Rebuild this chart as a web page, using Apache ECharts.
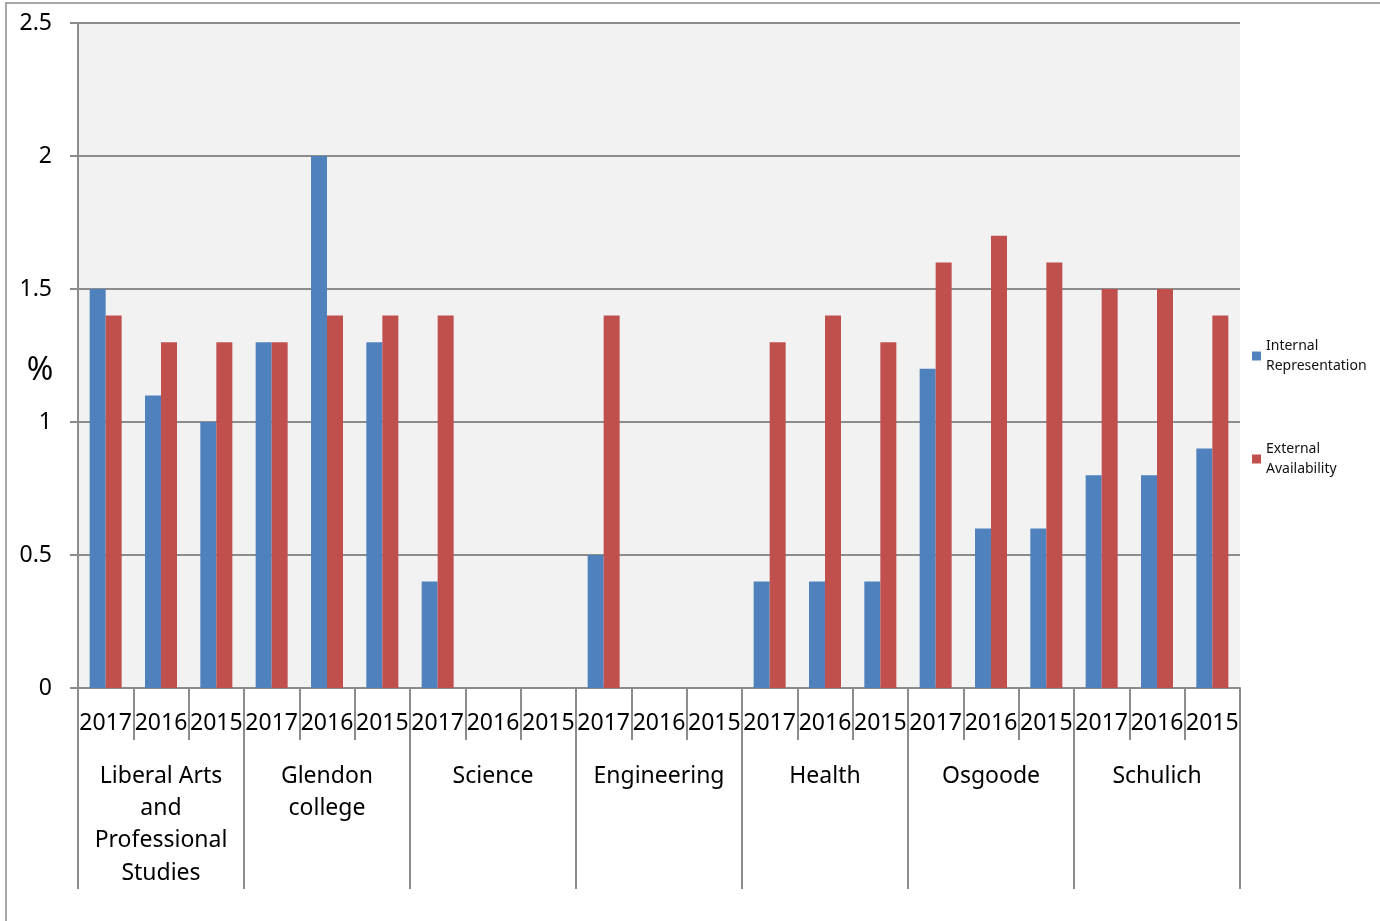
<!DOCTYPE html>
<html>
<head>
<meta charset="utf-8">
<script src="https://cdn.jsdelivr.net/npm/echarts@6/dist/echarts.min.js"></script>
<style>
  html, body { margin: 0; padding: 0; background: #fff; }
  #chart { width: 1380px; height: 921px; }
</style>
</head>
<body>
<div id="chart"></div>
<script>
  const groups = ['Liberal Arts\nand\nProfessional\nStudies', 'Glendon\ncollege', 'Science', 'Engineering', 'Health', 'Osgoode', 'Schulich'];
  const years = ['2017', '2016', '2015'];
  const internalRep = [1.5, 1.1, 1.0, 1.3, 2.0, 1.3, 0.4, 0, 0, 0.5, 0, 0, 0.4, 0.4, 0.4, 1.2, 0.6, 0.6, 0.8, 0.8, 0.9];
  const externalAvail = [1.4, 1.3, 1.3, 1.3, 1.4, 1.4, 1.4, 0, 0, 1.4, 0, 0, 1.3, 1.4, 1.3, 1.6, 1.7, 1.6, 1.5, 1.5, 1.4];
  const yTicks = [0, 0.5, 1, 1.5, 2, 2.5];

  const yearLabels = [];
  groups.forEach(() => years.forEach(y => yearLabels.push(y)));

  const FONT = 'Noto Sans';
  const GRAY = '#8c8c8c';

  let myChart = echarts.init(document.getElementById('chart'));
  let option = {
    animation: false,
    textStyle: { fontFamily: FONT },
    graphic: [
      {
        type: 'rect',
        shape: { x: 6, y: 3, width: 1400, height: 1000 },
        style: { fill: 'none', stroke: GRAY, lineWidth: 1.5 }
      },
      {
        // y axis unit
        type: 'text',
        x: 40,
        y: 371,
        style: { text: '%', font: '32px "Noto Sans"', fill: '#000', align: 'center', verticalAlign: 'middle' }
      }
    ],
    legend: {
      orient: 'vertical',
      left: 1252,
      top: 336,
      padding: 0,
      itemWidth: 9,
      itemHeight: 9,
      itemGap: 63,
      icon: 'rect',
      textStyle: { fontSize: 14, color: '#111', lineHeight: 20, fontFamily: FONT },
      data: ['Internal\nRepresentation', 'External\nAvailability'],
      align: 'left'
    },
    grid: {
      left: 78,
      right: 140,
      top: 23,
      bottom: 233,
      outerBoundsMode: 'none',
      containLabel: false,
      show: true,
      backgroundColor: '#f2f2f2',
      borderWidth: 0
    },
    xAxis: [
      {
        type: 'category',
        data: yearLabels,
        position: 'bottom',
        axisLine: { show: true, lineStyle: { color: GRAY, width: 2 } },
        axisTick: { show: true, interval: 0, length: 52, lineStyle: { color: GRAY, width: 2 } },
        axisLabel: { interval: 0, margin: 24, fontSize: 23, color: '#000', fontFamily: FONT }
      },
      {
        type: 'category',
        data: groups,
        position: 'bottom',
        axisLine: { show: false },
        axisTick: { show: true, interval: 0, length: 201, lineStyle: { color: GRAY, width: 2 } },
        axisLabel: { interval: 0, margin: 72, fontSize: 23, lineHeight: 32.3, color: '#000', fontFamily: FONT, verticalAlign: 'top' }
      }
    ],
    yAxis: {
      type: 'value',
      min: yTicks[0],
      max: yTicks[yTicks.length - 1],
      interval: 0.5,
      axisLine: { show: true, lineStyle: { color: GRAY, width: 2 } },
      axisTick: { show: true, length: 8, lineStyle: { color: GRAY, width: 2 } },
      splitLine: { show: true, lineStyle: { color: GRAY, width: 2 } },
      axisLabel: { margin: 26, fontSize: 23, color: '#000', fontFamily: FONT }
    },
    series: [
      {
        name: 'Internal\nRepresentation',
        type: 'bar',
        data: internalRep,
        barWidth: 16,
        barGap: 0,
        itemStyle: { color: '#4f81bd' }
      },
      {
        name: 'External\nAvailability',
        type: 'bar',
        data: externalAvail,
        barWidth: 16,
        barGap: 0,
        itemStyle: { color: '#c0504d' }
      }
    ]
  };
  option && myChart.setOption(option);
</script>
</body>
</html>
